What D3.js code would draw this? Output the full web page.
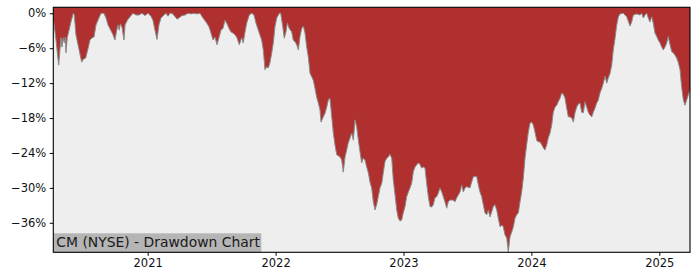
<!DOCTYPE html>
<html>
<head>
<meta charset="utf-8">
<script src="https://cdn.jsdelivr.net/npm/d3@7"></script>
<style>
  body { margin: 0; background: #fff; }
  text { font-family: "DejaVu Sans", sans-serif; }
</style>
</head>
<body>
<script>
// dates as decimal years, drawdown in percent
var dates = [
  2020.262, 2020.283, 2020.304, 2020.314, 2020.322, 2020.330, 2020.340, 2020.348, 2020.356, 2020.361,
  2020.371, 2020.385, 2020.400, 2020.418, 2020.426, 2020.439, 2020.461, 2020.484, 2020.496, 2020.515,
  2020.531, 2020.549, 2020.565, 2020.580, 2020.596, 2020.611, 2020.635, 2020.658, 2020.674, 2020.690,
  2020.711, 2020.729, 2020.744, 2020.758, 2020.768, 2020.778, 2020.786, 2020.799, 2020.815, 2020.823,
  2020.841, 2020.862, 2020.885, 2020.909, 2020.932, 2020.955, 2020.979, 2021.002, 2021.026, 2021.041,
  2021.057, 2021.073, 2021.088, 2021.104, 2021.127, 2021.143, 2021.159, 2021.174, 2021.190, 2021.211,
  2021.229, 2021.245, 2021.268, 2021.292, 2021.315, 2021.339, 2021.362, 2021.385, 2021.409, 2021.432,
  2021.456, 2021.479, 2021.495, 2021.511, 2021.526, 2021.542, 2021.557, 2021.573, 2021.589, 2021.604,
  2021.620, 2021.636, 2021.651, 2021.667, 2021.683, 2021.698, 2021.716, 2021.735, 2021.747, 2021.761,
  2021.774, 2021.794, 2021.813, 2021.831, 2021.847, 2021.865, 2021.891, 2021.904, 2021.917, 2021.930,
  2021.943, 2021.956, 2021.970, 2021.982, 2021.995, 2022.009, 2022.029, 2022.040, 2022.056, 2022.068,
  2022.081, 2022.092, 2022.107, 2022.126, 2022.138, 2022.152, 2022.165, 2022.178, 2022.191, 2022.204,
  2022.217, 2022.230, 2022.243, 2022.256, 2022.269, 2022.282, 2022.295, 2022.308, 2022.321, 2022.334,
  2022.347, 2022.355, 2022.373, 2022.386, 2022.400, 2022.412, 2022.425, 2022.439, 2022.451, 2022.464,
  2022.478, 2022.504, 2022.517, 2022.529, 2022.543, 2022.556, 2022.568, 2022.582, 2022.595, 2022.608,
  2022.621, 2022.634, 2022.647, 2022.660, 2022.673, 2022.686, 2022.699, 2022.712, 2022.725, 2022.738,
  2022.751, 2022.764, 2022.777, 2022.790, 2022.803, 2022.816, 2022.830, 2022.842, 2022.855, 2022.869,
  2022.881, 2022.894, 2022.908, 2022.920, 2022.934, 2022.947, 2022.959, 2022.973, 2022.986, 2022.998,
  2023.012, 2023.025, 2023.038, 2023.051, 2023.064, 2023.077, 2023.090, 2023.116, 2023.129, 2023.142,
  2023.155, 2023.168, 2023.181, 2023.194, 2023.207, 2023.220, 2023.233, 2023.246, 2023.260, 2023.272,
  2023.285, 2023.299, 2023.311, 2023.324, 2023.338, 2023.350, 2023.364, 2023.389, 2023.403, 2023.416,
  2023.442, 2023.455, 2023.468, 2023.481, 2023.494, 2023.520, 2023.533, 2023.546, 2023.572, 2023.585,
  2023.598, 2023.611, 2023.624, 2023.637, 2023.651, 2023.663, 2023.676, 2023.690, 2023.702, 2023.715,
  2023.729, 2023.741, 2023.755, 2023.768, 2023.780, 2023.794, 2023.807, 2023.819, 2023.833, 2023.846,
  2023.859, 2023.872, 2023.885, 2023.898, 2023.911, 2023.924, 2023.937, 2023.950, 2023.963, 2023.976,
  2023.989, 2024.002, 2024.015, 2024.028, 2024.041, 2024.054, 2024.067, 2024.081, 2024.093, 2024.106,
  2024.120, 2024.132, 2024.145, 2024.159, 2024.171, 2024.185, 2024.198, 2024.210, 2024.224, 2024.237,
  2024.249, 2024.263, 2024.276, 2024.289, 2024.302, 2024.315, 2024.328, 2024.341, 2024.354, 2024.367,
  2024.380, 2024.393, 2024.406, 2024.419, 2024.432, 2024.445, 2024.458, 2024.472, 2024.484, 2024.497,
  2024.511, 2024.523, 2024.536, 2024.550, 2024.562, 2024.576, 2024.589, 2024.601, 2024.615, 2024.628,
  2024.640, 2024.654, 2024.667, 2024.680, 2024.693, 2024.719, 2024.745, 2024.771, 2024.784, 2024.797,
  2024.823, 2024.849, 2024.862, 2024.875, 2024.888, 2024.902, 2024.914, 2024.927, 2024.941, 2024.953,
  2024.966, 2024.980, 2024.992, 2025.006, 2025.019, 2025.031, 2025.045, 2025.058, 2025.070, 2025.084,
  2025.097, 2025.110, 2025.123, 2025.136, 2025.149, 2025.162, 2025.175, 2025.188, 2025.201, 2025.214,
  2025.227, 2025.240
];

var drawdown = [
  -0.8, -4.6, -8.9, -6.3, -4.2, -5.8, -4.2, -5.1, -4.1, -6.8,
  -4.2, -2.9, -1.5, 0, -0.3, -3.7, -6.0, -8.4, -7.9, -7.7,
  -6.3, -4.6, -4.2, -4.1, -2.0, -1.2, 0, 0, -0.8, -2.0,
  -2.9, -3.7, -4.6, -2.9, -2.0, -2.9, -1.8, -2.4, -4.6, -2.0,
  -1.2, -0.6, 0, -0.3, -0.3, 0, -0.4, 0, -0.5, -1.2,
  -2.9, -4.5, -2.0, -0.8, -0.3, 0, -0.5, 0, 0, -0.5,
  -1.0, -0.8, -0.4, -0.3, 0, -0.1, 0, -0.1, 0, -0.8,
  -1.5, -2.3, -3.4, -4.6, -4.1, -5.4, -4.2, -2.9, -2.6, -1.2,
  -1.8, -2.6, -3.2, -3.4, -3.7, -4.2, -5.4, -4.2, -5.1, -3.2,
  -1.7, -0.3, 0, -0.3, -1.7, -2.9, -4.6, -6.3, -9.7, -9.2,
  -9.4, -8.5, -6.8, -5.1, -2.3, -0.8, 0, 0, -2.3, -4.3,
  -3.2, -1.7, -2.6, -3.2, -4.6, -4.9, -5.4, -6.3, -4.0, -2.6,
  -2.2, -3.4, -5.8, -7.5, -10.3, -10.9, -11.5, -12.9, -14.4, -15.4,
  -16.6, -18.7, -17.8, -17.2, -16.1, -14.9, -14.6, -17.8, -20.5, -22.6,
  -24.3, -24.7, -25.2, -27.3, -24.7, -23.5, -22.3, -21.4, -20.6, -21.8,
  -18.3, -19.5, -21.8, -23.8, -25.7, -24.9, -25.2, -26.4, -27.4, -29.0,
  -30.0, -32.4, -33.8, -32.9, -31.5, -30.0, -29.2, -27.4, -25.5, -24.9,
  -24.7, -24.2, -24.9, -28.6, -31.2, -33.8, -35.2, -35.7, -35.5, -34.3,
  -33.2, -31.5, -30.7, -30.0, -29.2, -27.2, -26.4, -25.7, -26.0, -26.6,
  -26.4, -26.6, -29.2, -31.5, -33.2, -33.3, -32.9, -31.7, -31.5, -30.9,
  -30.0, -30.7, -31.5, -32.4, -33.5, -32.4, -32.1, -32.1, -32.4, -31.7,
  -30.7, -29.5, -30.7, -30.0, -29.8, -30.0, -29.0, -28.1, -28.0, -29.5,
  -30.7, -31.5, -32.9, -34.3, -34.6, -33.8, -35.0, -34.1, -33.2, -32.9,
  -33.8, -35.2, -36.7, -36.4, -36.7, -38.1, -38.6, -41.0, -38.4, -37.6,
  -36.7, -35.2, -34.6, -34.3, -32.4, -30.7, -28.3, -24.9, -22.6, -20.4,
  -18.9, -18.7, -19.2, -20.4, -21.8, -22.1, -22.1, -22.6, -23.1, -23.5,
  -22.6, -21.4, -20.6, -19.2, -17.0, -16.1, -15.8, -15.2, -14.6, -13.7,
  -13.9, -14.6, -16.3, -17.8, -17.8, -18.0, -18.7, -17.1, -16.1, -15.6,
  -15.4, -17.0, -17.1, -15.2, -16.1, -17.0, -17.5, -17.8, -17.0, -16.3,
  -15.4, -14.9, -13.7, -12.9, -12.0, -10.8, -12.0, -11.1, -10.3, -8.9,
  -6.3, -4.3, -2.0, -0.6, -0.1, 0, -0.6, -2.2, -1.5, -0.3,
  -0.1, -0.3, 0, -0.8, -0.3, 0, -0.8, -1.5, -0.6, -1.7,
  -3.4, -4.0, -4.6, -5.1, -5.8, -6.3, -5.8, -5.1, -4.0, -5.4,
  -6.6, -6.8, -7.2, -7.7, -8.5, -9.7, -12.7, -14.9, -15.8, -14.9,
  -14.0, -13.2
];

var yTicks = [0, -6, -12, -18, -24, -30, -36];
var xTicks = [2021, 2022, 2023, 2024, 2025];
var yDomain = [-41.07, 1.03];
var title = "CM (NYSE) - Drawdown Chart";

var margin = {top: 7.3, right: 10, bottom: 27.7, left: 53.3};
var width = 700, height = 280;
var w = width - margin.left - margin.right;
var h = height - margin.top - margin.bottom;

var points = dates.map(function(t, i) { return {t: t, v: drawdown[i]}; });

var svg = d3.select("body").append("svg")
    .attr("width", width)
    .attr("height", height);

var g = svg.append("g")
    .attr("transform", "translate(" + margin.left + "," + margin.top + ")");

var x = d3.scaleLinear()
    .domain([dates[0], dates[dates.length - 1]])
    .range([0, w]);

var y = d3.scaleLinear()
    .domain(yDomain)
    .range([h, 0]);

g.append("clipPath").attr("id", "plot")
  .append("rect").attr("width", w).attr("height", h);

g.append("rect")
    .attr("width", w)
    .attr("height", h)
    .attr("fill", "#eeeeee");

var area = d3.area()
    .x(function(d) { return x(d.t); })
    .y0(0)
    .y1(function(d) { return y(d.v); });

var line = d3.line()
    .x(function(d) { return x(d.t); })
    .y(function(d) { return y(d.v); });

g.append("path")
    .datum(points)
    .attr("clip-path", "url(#plot)")
    .attr("fill", "#b03030")
    .attr("d", area);

g.append("path")
    .datum(points)
    .attr("clip-path", "url(#plot)")
    .attr("fill", "none")
    .attr("stroke", "#8a8a8a")
    .attr("stroke-width", 1)
    .attr("d", line);

// label box bottom-left
var label = g.append("g");
label.append("rect")
    .attr("x", 0)
    .attr("y", h - 19)
    .attr("width", 208)
    .attr("height", 19)
    .attr("fill", "#b5b5b5");
label.append("text")
    .attr("x", 3)
    .attr("y", h - 5)
    .attr("font-size", "13.9px")
    .attr("fill", "#1a1a1a")
    .text(title);

var fmt = d3.format("d");

var yAxis = g.append("g")
    .call(d3.axisLeft(y)
      .tickValues(yTicks)
      .tickSize(3.5)
      .tickPadding(3.5)
      .tickFormat(function(d) { return fmt(d) + "%"; }));

var xAxis = g.append("g")
    .attr("transform", "translate(0," + h + ")")
    .call(d3.axisBottom(x)
      .tickValues(xTicks)
      .tickSize(3.5)
      .tickPadding(3.5)
      .tickFormat(function(d) { return String(d); }));

[yAxis, xAxis].forEach(function(a) {
  a.select(".domain").remove();
  a.selectAll("text")
    .attr("font-family", "DejaVu Sans, sans-serif")
    .attr("font-size", "11.5px")
    .attr("fill", "#111");
  a.selectAll("line").attr("stroke", "#000").attr("stroke-width", 1);
});

// frame
g.append("rect")
    .attr("width", w)
    .attr("height", h)
    .attr("fill", "none")
    .attr("stroke", "#000")
    .attr("stroke-width", 1.1);
</script>
</body>
</html>
